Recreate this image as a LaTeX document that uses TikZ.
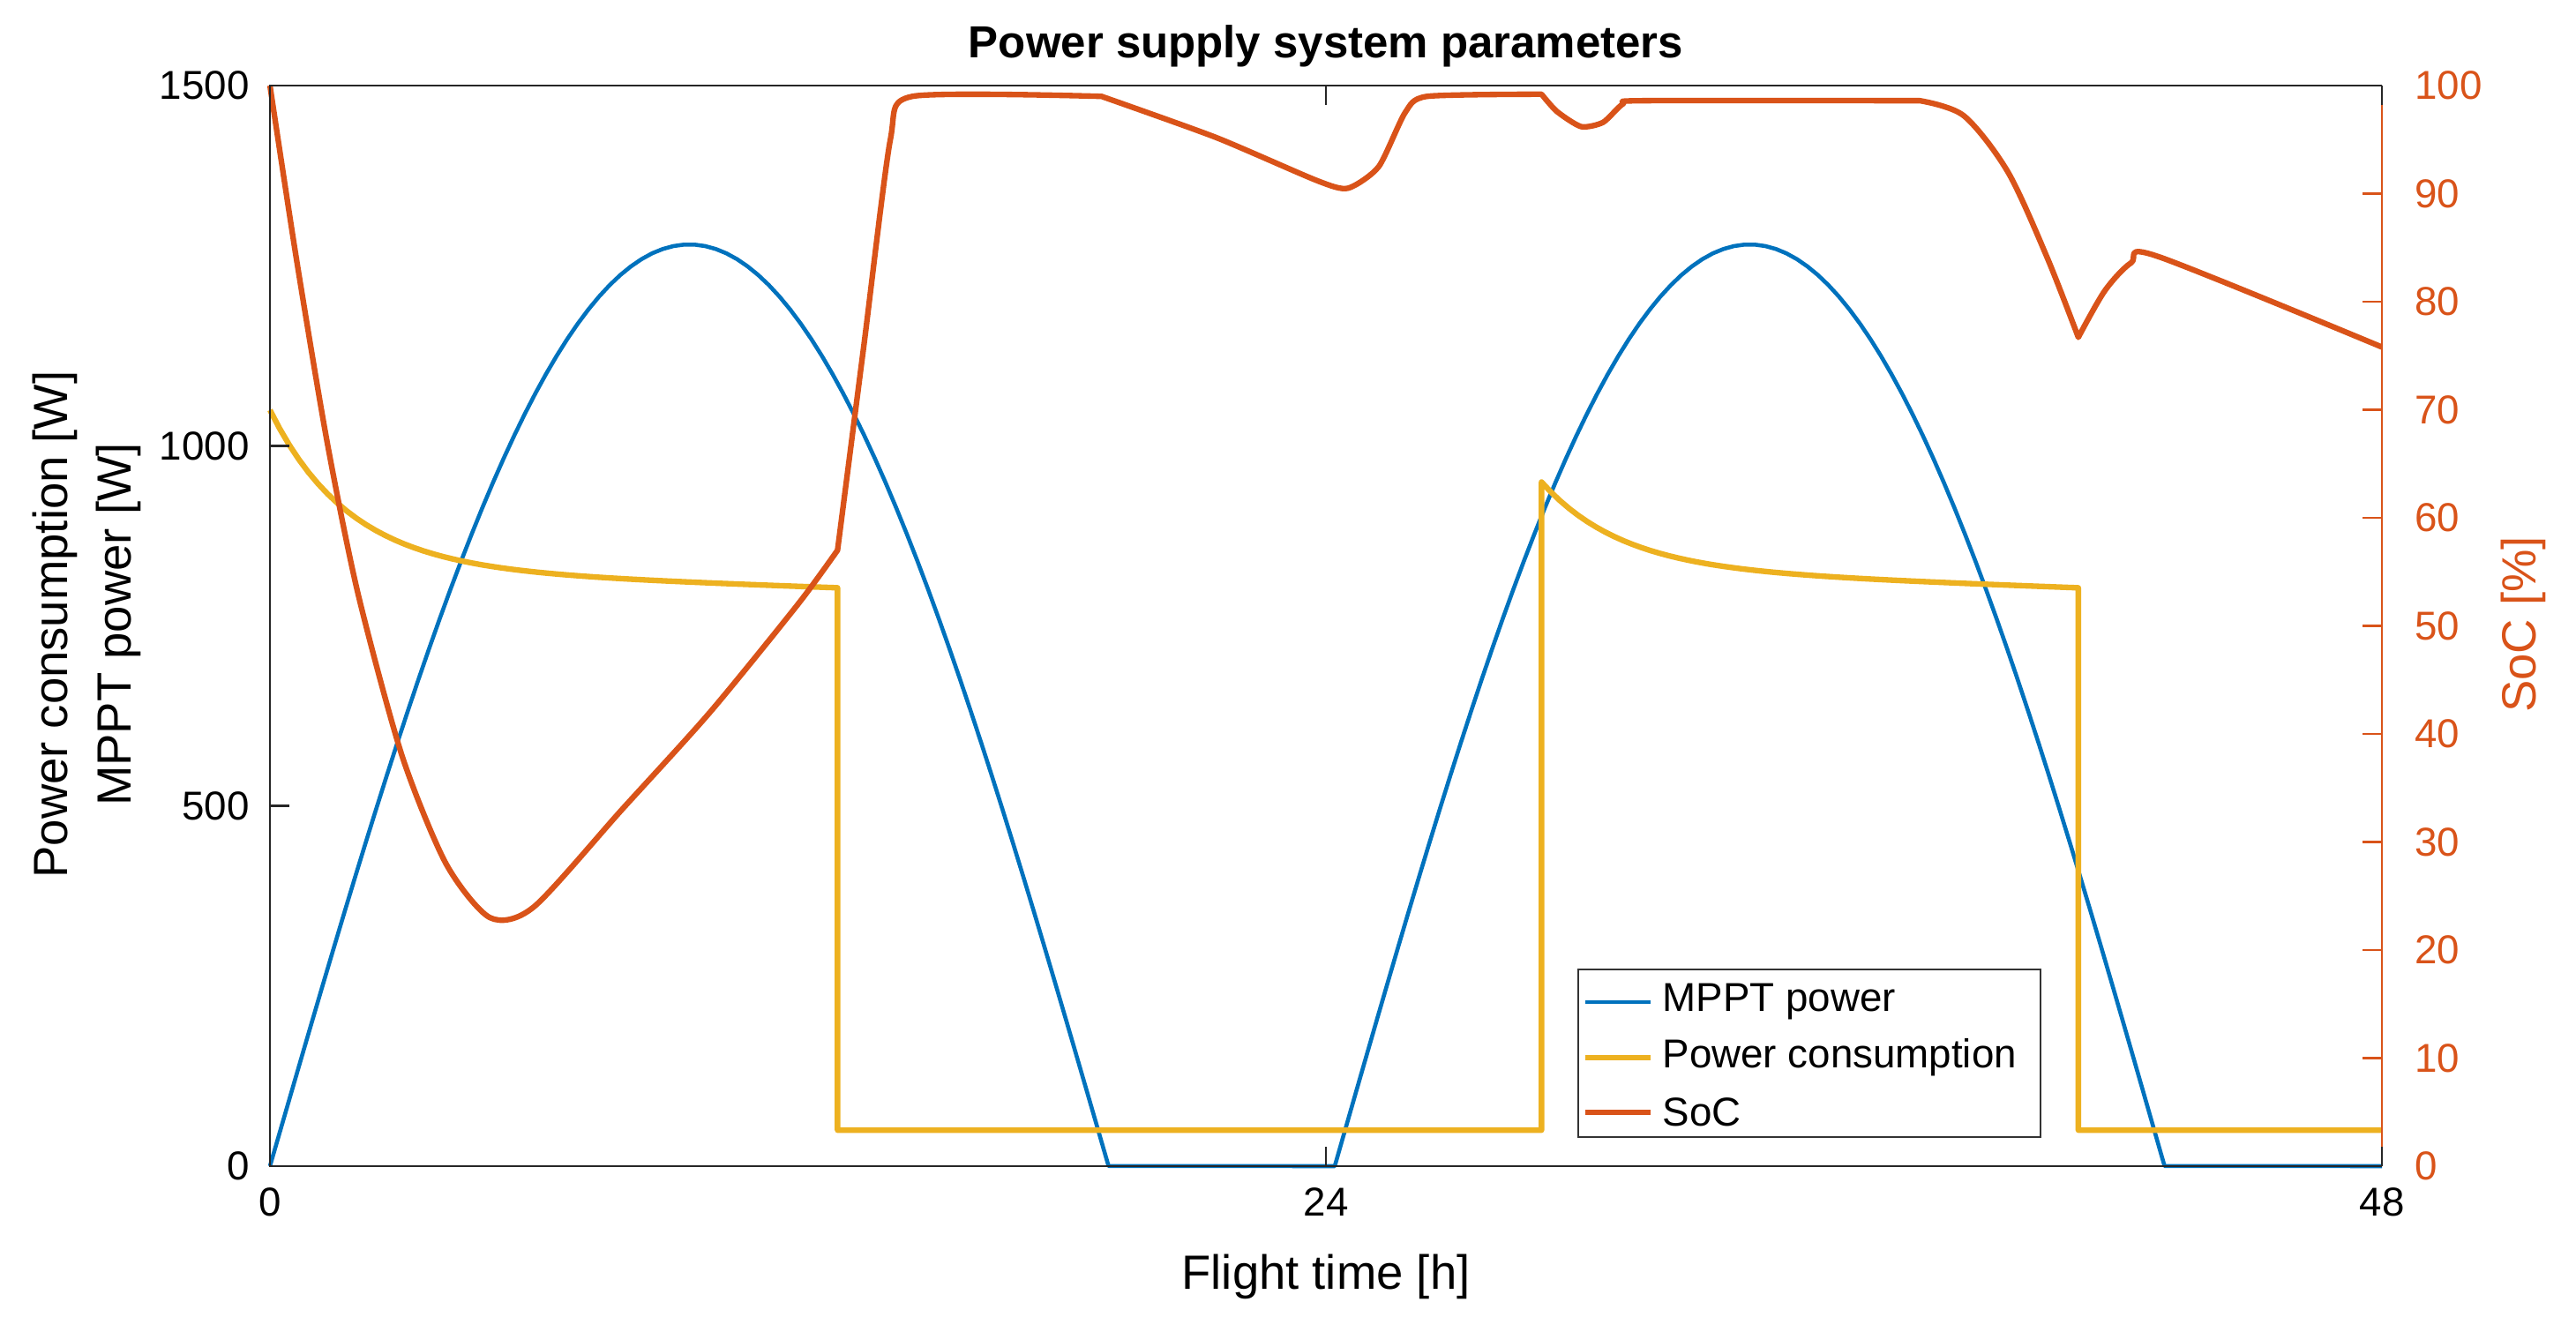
\documentclass[tikz,border=0pt]{standalone}
\usepackage{fontspec}
\setmainfont{Liberation Sans}
\begin{document}
\begin{tikzpicture}[x=1cm,y=1cm,
  mppt/.style={draw={rgb,255:red,0;green,114;blue,189},line width=1.3pt,line join=round},
  pc/.style={draw={rgb,255:red,237;green,177;blue,32},line width=1.8pt,line join=round},
  soc/.style={draw={rgb,255:red,217;green,83;blue,25},line width=1.8pt,line join=round},
  tick/.style={font=\fontsize{13}{15}\selectfont},
  lbl/.style={font=\fontsize{15.5}{17}\selectfont}]
\definecolor{socc}{RGB}{217,83,25}
\useasboundingbox (0,0) rectangle (29.2,15.1);
\begin{scope}[shift={(3.06,1.88)},x=0.49875cm,y=0.008167cm]
  \draw[mppt] plot[domain=0:19.06,samples=80] (\x,{1280*sin(180*\x/19.06)}) -- (24.2,0)
     -- plot[domain=24.2:43.06,samples=80] (\x,{1280*sin(180*(\x-24.2)/18.86)}) -- (48,0);
  \draw[pc] plot[domain=0:12.9,samples=60] (\x,{803+27*(12.9-\x)/12.9+220*exp(-\x/1.8)})
     -- (12.9,50) -- (28.9,50)
     -- plot[domain=28.9:41.1,samples=60] (\x,{803+27*(41.1-\x)/12.2+120*exp(-(\x-28.9)/1.8)})
     -- (41.1,50) -- (48,50);
\end{scope}
\begin{scope}[shift={(3.06,1.88)},x=0.49875cm,y=0.1225cm]
  \draw[soc] plot[smooth,tension=0.45] coordinates {(0,100)(0.6,84)(1.3,67)(2,53)(3,38)(4,28)(5,23)(6,24)(8,33)(10,42)(12,52)(12.9,57)}
    -- plot[smooth,tension=0.4] coordinates {(12.9,57)(13.5,76)(14.1,95)(14.6,99)(18.9,99)}
    -- plot[smooth,tension=0.4] coordinates {(18.9,99)(21.5,95.2)(23.8,91.2)(24.5,90.5)(25.2,92.5)(25.8,97.5)(26.3,99)(28.9,99.2)}
    -- plot[smooth,tension=0.4] coordinates {(28.9,99.2)(29.25,97.6)(29.8,96.2)(30.3,96.6)(30.75,98.3)(31.2,98.6)(37.5,98.6)}
    -- plot[smooth,tension=0.5] coordinates {(37.5,98.6)(38.5,97.2)(39.5,92)(40.4,84)(41.1,76.7)}
    -- plot[smooth,tension=0.5] coordinates {(41.1,76.7)(41.7,81)(42.3,83.6)(42.9,84.2)(48,75.8)};
  \draw[socc,line width=0.8pt] (48,0) -- (48,100);
  \foreach \v in {0,10,...,100}{
    \draw[socc,line width=0.8pt] (48,\v) -- ++(-0.45,0);
    \node[tick,text=socc,anchor=west] (r\v) at (48.5,\v) {\v};}
\end{scope}
\draw[line width=0.8pt,black!85] (27.0,14.13) -- (3.06,14.13) -- (3.06,1.88) -- (27.0,1.88);
\foreach \v/\y in {0/1.88,500/5.963,1000/10.047,1500/14.13}{
  \draw[line width=0.8pt,black!85] (3.06,\y) -- ++(0.22,0);
  \node[tick,anchor=east] (l\v) at (2.95,\y) {\v};}
\foreach \v/\x in {0/3.06,24/15.03,48/27.0}{
  \draw[line width=0.8pt,black!85] (\x,1.88) -- ++(0,0.22);
  \draw[line width=0.8pt,black!85] (\x,14.13) -- ++(0,-0.22);
  \node[tick,anchor=north] (b\v) at (\x,1.76) {\v};}
\node[font=\fontsize{14.5}{16}\selectfont\bfseries] (title) at (15.03,14.58) {Power supply system parameters};
\node[lbl] (xl) at (15.03,0.63) {Flight time [h]};
\node[lbl,rotate=90] (yl1) at (0.62,8.02) {Power consumption [W]};
\node[lbl,rotate=90] (yl2) at (1.34,8.02) {MPPT power [W]};
\node[lbl,rotate=90,text=socc] (yr) at (28.6,8.02) {SoC [\%]};
\draw[line width=0.6pt,black!80,fill=white] (17.89,2.21) rectangle (23.13,4.11);
\draw[mppt] (17.97,3.74) -- (18.71,3.74);
\draw[pc] (17.97,3.11) -- (18.71,3.11);
\draw[soc] (17.97,2.49) -- (18.71,2.49);
\node[tick,anchor=west,inner sep=0] (g1) at (18.84,3.74) {MPPT power};
\node[tick,anchor=west,inner sep=0] (g2) at (18.84,3.11) {Power consumption};
\node[tick,anchor=west,inner sep=0] (g3) at (18.84,2.49) {SoC};
\end{tikzpicture}
\end{document}
